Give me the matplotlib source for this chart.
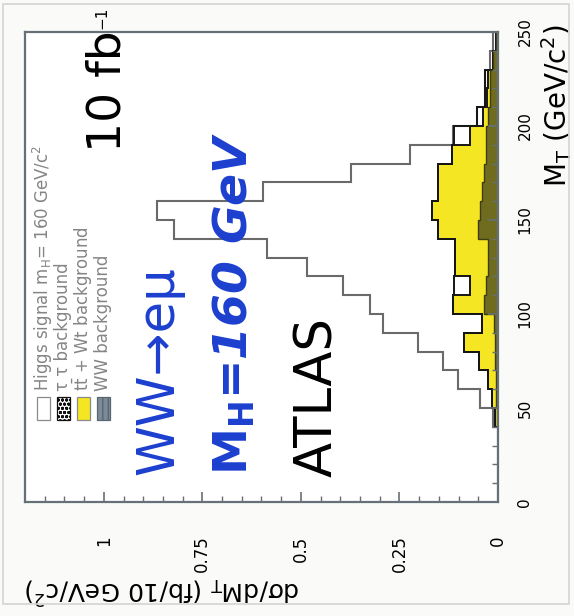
import numpy as np
import matplotlib
matplotlib.use("Agg")
import matplotlib.pyplot as plt
from matplotlib.patches import Rectangle

plt.rcParams['font.family'] = ['DejaVu Sans']
plt.rcParams['mathtext.fontset'] = 'dejavusans'

# Transverse-mass bins, 10 GeV/c^2 wide
mt_edges = np.arange(0, 260, 10)

# Cross sections per bin (fb / 10 GeV/c^2), one entry per bin
ww_bkg = np.array([0, 0, 0, 0, 0.003, 0.005, 0.005, 0.008, 0.008, 0.010,
                   0.035, 0.030, 0.025, 0.025, 0.050, 0.045, 0.040, 0.035,
                   0.030, 0.030, 0.025, 0.020, 0.020, 0.012, 0.005])
ttbar_bkg = np.array([0, 0, 0, 0, 0.005, 0.010, 0.020, 0.040, 0.078, 0.030,
                      0.079, 0.041, 0.084, 0.084, 0.102, 0.122, 0.112, 0.117,
                      0.086, 0.041, 0.013, 0.008, 0.005, 0, 0])
tautau_bkg = np.array([0, 0, 0, 0, 0, 0, 0, 0, 0, 0,
                       0, 0.040, 0, 0, 0, 0, 0, 0,
                       0, 0.040, 0.015, 0.005, 0.008, 0, 0])
higgs_signal = np.array([0, 0, 0, 0, 0.005, 0.031, 0.076, 0.091, 0.117, 0.251,
                         0.210, 0.281, 0.375, 0.476, 0.671, 0.699, 0.445, 0.220,
                         0.107, 0.003, 0, 0, 0, 0.008, 0.008])

xsec_ticks = [0, 0.25, 0.5, 0.75, 1]
xsec_labels = ['0', '0.25', '0.5', '0.75', '1']
mt_ticks = [0, 50, 100, 150, 200, 250]

legend_labels = [r'Higgs signal m$_\mathrm{H}$= 160 GeV/c$^2$',
                 'τ τ background',
                 r't$\bar{\mathrm{t}}$ + Wt background',
                 'WW background']

YELLOW = '#f4e622'
OLIVE = '#6f6c1f'
BLUE = '#1c3fcf'
FRAME = '#667079'

W, H = 574, 616
fig = plt.figure(figsize=(W / 100, H / 100), dpi=100, facecolor='#fafaf8')
# faint outer border of the sheet
fig.patches.append(Rectangle((3 / W, 1 - 604 / H), 566 / W, 600 / H,
                             transform=fig.transFigure, fill=False,
                             edgecolor='#d4d4d4', lw=1.2))
ax = fig.add_axes([25 / W, 1 - 502 / H, 473 / W, 470 / H])
ax.set_facecolor('white')

# Stacked histograms, drawn sideways: cross section runs right-to-left, M_T runs upward
s1 = ww_bkg
s2 = s1 + ttbar_bkg
s3 = s2 + tautau_bkg
s4 = s3 + higgs_signal

ax.stairs(s1, mt_edges, baseline=0, orientation='horizontal', fill=True,
          facecolor=OLIVE, edgecolor='none')
ax.stairs(s2, mt_edges, baseline=s1, orientation='horizontal', fill=True,
          facecolor=YELLOW, edgecolor='none')
ax.stairs(s3, mt_edges, baseline=s2, orientation='horizontal', fill=True,
          facecolor='white', edgecolor='none')
ax.stairs(s4, mt_edges, baseline=s3, orientation='horizontal', fill=True,
          facecolor='white', edgecolor='none')
ax.stairs(s4, mt_edges, orientation='horizontal', color='#6a6a6a', lw=1.5)
ax.stairs(s3, mt_edges, orientation='horizontal', color='#151515', lw=1.4)
ax.stairs(s2, mt_edges, orientation='horizontal', color='#151515', lw=1.4)
ax.stairs(s1, mt_edges, orientation='horizontal', color='#3e3c10', lw=1.0)

ax.set_xlim(1.2, 0)
ax.set_ylim(0, 250)

ax.set_xticks(xsec_ticks)
ax.set_xticklabels(xsec_labels)
ax.set_xticks(np.arange(0, 1.2, 0.05), minor=True)
ax.yaxis.tick_right()
ax.set_yticks(mt_ticks)
ax.set_yticks(np.arange(0, 251, 10), minor=True)

ax.tick_params(axis='x', which='both', direction='in', bottom=True, top=False,
               color=FRAME, labelrotation=90, pad=24, labelsize=12)
ax.tick_params(axis='y', which='both', direction='in', right=True, left=False,
               color=FRAME, labelrotation=90, pad=14, labelsize=11)
ax.tick_params(which='major', length=7, width=1.2)
ax.tick_params(which='minor', length=4, width=1.0)
for lbl in ax.get_yticklabels():
    lbl.set_va('center')

for sp in ax.spines.values():
    sp.set_color(FRAME)
    sp.set_linewidth(1.6)

# Axis titles
ax.text(0.0, -0.187, r'dσ/dM$_\mathrm{T}$ (fb/10 GeV/c$^2$)', rotation=180,
        ha='left', va='center', fontsize=18, transform=ax.transAxes)
ax.text(1.123, 1.015, r'M$_\mathrm{T}$ (GeV/c$^2$)', rotation=90,
        ha='center', va='top', fontsize=20, transform=ax.transAxes)

# Luminosity: main text plus a small raised exponent
ax.text(0.175, 0.745, '10 fb', rotation=90, ha='center', va='bottom',
        fontsize=34, transform=ax.transAxes)
ax.text(0.162, 1.006, '−1', rotation=90, ha='center', va='bottom',
        fontsize=11, transform=ax.transAxes)

# Annotations
ax.text(0.283, 0.057, 'WW→eμ', rotation=90, ha='center', va='bottom',
        fontsize=37, color=BLUE, transform=ax.transAxes)
ax.text(0.443, 0.057, r'$\mathbf{M}_\mathbf{H}$=160 GeV', rotation=90,
        ha='center', va='bottom', fontsize=34, color=BLUE,
        fontweight='bold', style='italic', transform=ax.transAxes)
ax.text(0.619, 0.053, 'ATLAS', rotation=90, ha='center', va='bottom',
        fontsize=37, transform=ax.transAxes)

# Legend, laid out along the rotated frame
legend_style = [dict(facecolor='white', edgecolor='#8a8a8a', hatch=None),
                dict(facecolor='white', edgecolor='#111111', hatch='oooo'),
                dict(facecolor=YELLOW, edgecolor='#8a8a8a', hatch=None),
                dict(facecolor='#7d8a98', edgecolor='#5b6672', hatch='|||')]
for i, (label, style) in enumerate(zip(legend_labels, legend_style)):
    xc = (43 + 20 * i - 25) / 473
    ax.add_patch(Rectangle((xc - 0.0137, 0.1745), 0.0275, 0.049,
                           transform=ax.transAxes, lw=0.9, **style))
    ax.text(xc, 0.236, label, rotation=90, ha='center', va='bottom',
            fontsize=12, color='#858585', transform=ax.transAxes)

fig.savefig('out.png', dpi=100, facecolor=fig.get_facecolor())
